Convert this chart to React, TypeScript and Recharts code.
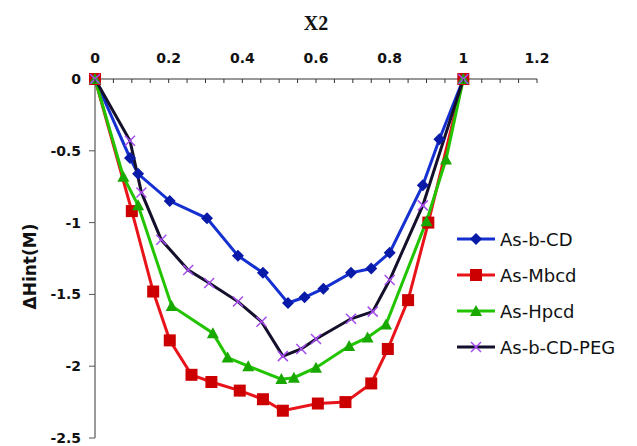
import { LineChart, Line, XAxis, YAxis, Label } from 'recharts'

// As-b-CD
const X_BCD = [0, 0.095, 0.117, 0.203, 0.304, 0.388, 0.456, 0.524, 0.569, 0.62, 0.695, 0.75, 0.8, 0.89, 0.935, 1]
const Y_BCD = [0, -0.55, -0.66, -0.85, -0.97, -1.23, -1.35, -1.56, -1.52, -1.46, -1.35, -1.32, -1.21, -0.74, -0.42, 0]

// As-Mbcd
const X_MBCD = [0, 0.1, 0.158, 0.203, 0.262, 0.316, 0.393, 0.456, 0.51, 0.605, 0.68, 0.75, 0.795, 0.85, 0.905, 1]
const Y_MBCD = [0, -0.92, -1.48, -1.82, -2.06, -2.11, -2.17, -2.23, -2.31, -2.26, -2.25, -2.12, -1.88, -1.54, -1.0, 0]

// As-Hpcd
const X_HPCD = [0, 0.077, 0.117, 0.208, 0.32, 0.36, 0.416, 0.506, 0.54, 0.6, 0.69, 0.74, 0.79, 0.9, 0.953, 1]
const Y_HPCD = [0, -0.68, -0.88, -1.58, -1.77, -1.94, -2.0, -2.09, -2.08, -2.01, -1.86, -1.8, -1.71, -0.99, -0.56, 0]

// As-b-CD-PEG
const X_PEG = [0, 0.095, 0.126, 0.18, 0.253, 0.31, 0.388, 0.452, 0.51, 0.56, 0.6, 0.695, 0.754, 0.8, 0.89, 1]
const Y_PEG = [0, -0.43, -0.79, -1.12, -1.33, -1.42, -1.55, -1.69, -1.93, -1.88, -1.81, -1.67, -1.62, -1.4, -0.88, 0]

const X_LABEL_TICKS = [0, 0.2, 0.4, 0.6, 0.8, 1, 1.2]
const X_MINOR_TICKS = [
  0, 0.05, 0.1, 0.15, 0.2, 0.25, 0.3, 0.35, 0.4, 0.45, 0.5, 0.55, 0.6, 0.65, 0.7, 0.75,
  0.8, 0.85, 0.9, 0.95, 1, 1.05, 1.1, 1.15, 1.2,
]
const Y_TICKS = [-2.5, -2, -1.5, -1, -0.5, 0]

const zip = (xs: number[], ys: number[]) => xs.map((x, i) => ({ x, y: ys[i] }))

const bcd = zip(X_BCD, Y_BCD)
const mbcd = zip(X_MBCD, Y_MBCD)
const hpcd = zip(X_HPCD, Y_HPCD)
const peg = zip(X_PEG, Y_PEG)

const FONT = '"DejaVu Sans", sans-serif'

const Diamond = ({ cx, cy }: any) =>
  cx == null ? null : (
    <path key={`d-${cx}-${cy}`} d={`M${cx},${cy - 6}L${cx + 6},${cy}L${cx},${cy + 6}L${cx - 6},${cy}Z`} fill="#0a1aa8" />
  )

const Square = ({ cx, cy }: any) =>
  cx == null ? null : <rect key={`s-${cx}-${cy}`} x={cx - 6} y={cy - 6} width={12} height={12} fill="#cc0000" />

const Triangle = ({ cx, cy }: any) =>
  cx == null ? null : (
    <path key={`t-${cx}-${cy}`} d={`M${cx},${cy - 6}L${cx + 6},${cy + 5}L${cx - 6},${cy + 5}Z`} fill="#18a800" />
  )

const Cross = ({ cx, cy }: any) =>
  cx == null ? null : (
    <path
      key={`c-${cx}-${cy}`}
      d={`M${cx - 5},${cy - 5}L${cx + 5},${cy + 5}M${cx + 5},${cy - 5}L${cx - 5},${cy + 5}`}
      stroke="#a64cf0"
      strokeWidth={1.5}
      fill="none"
    />
  )

const SERIES = [
  { name: 'As-b-CD', stroke: '#1530d0', Mark: Diamond },
  { name: 'As-Mbcd', stroke: '#e8141a', Mark: Square },
  { name: 'As-Hpcd', stroke: '#22c400', Mark: Triangle },
  { name: 'As-b-CD-PEG', stroke: '#14102c', Mark: Cross },
]

// top axis tick: small line pointing into the plot, label only on majors
const XTick = ({ x, y, payload }: any) => {
  const axisY = y + 16
  const major = X_LABEL_TICKS.some((t) => Math.abs(t - payload.value) < 1e-6)
  return (
    <g>
      <line x1={x} x2={x} y1={axisY} y2={axisY + 4} stroke="#333" strokeWidth={1} />
      {major && (
        <text x={x} y={y} textAnchor="middle" fontFamily={FONT} fontWeight="bold" fontSize={14} fill="#111">
          {String(payload.value)}
        </text>
      )}
    </g>
  )
}

const LegendBox = () => (
  <div style={{ position: 'absolute', left: 455, top: 221, fontFamily: FONT, fontSize: 18, color: '#111' }}>
    {SERIES.map(({ name, stroke, Mark }) => (
      <div key={name} style={{ display: 'flex', alignItems: 'center', height: 36 }}>
        <svg width={42} height={16}>
          <line x1={2} x2={40} y1={8} y2={8} stroke={stroke} strokeWidth={3} />
          <Mark cx={21} cy={8} />
        </svg>
        <span style={{ marginLeft: 3 }}>{name}</span>
      </div>
    ))}
  </div>
)

export default function App() {
  return (
    <div style={{ position: 'absolute', left: 0, top: 0, width: 637, height: 446, background: '#fff' }}>
      <LineChart width={637} height={446} data={bcd} margin={{ top: 8, right: 100, left: 10, bottom: 8 }}>
        <XAxis
          type="number"
          dataKey="x"
          orientation="top"
          domain={[0, 1.2]}
          ticks={X_MINOR_TICKS}
          tick={<XTick />}
          tickLine={false}
          tickSize={12}
          tickMargin={4}
          height={71}
          axisLine={{ stroke: '#333', strokeWidth: 1.2 }}
          interval={0}
        >
          <Label
            content={({ viewBox }: any) => (
              <text
                x={viewBox.x + viewBox.width / 2}
                y={viewBox.y + 22}
                textAnchor="middle"
                fontFamily='"Liberation Serif", serif'
                fontWeight="bold"
                fontSize={20}
                fill="#111"
              >
                X2
              </text>
            )}
          />
        </XAxis>
        <YAxis
          type="number"
          domain={[-2.5, 0]}
          ticks={Y_TICKS}
          width={85}
          interval={0}
          tickSize={6}
          tickMargin={8}
          tick={{ fontFamily: FONT, fontWeight: 'bold', fontSize: 14, fill: '#111' }}
          tickLine={{ stroke: '#555' }}
          axisLine={{ stroke: '#555', strokeWidth: 1.2 }}
        >
          <Label
            content={({ viewBox }: any) => {
              const lx = viewBox.x + 20
              const ly = viewBox.y + viewBox.height / 2 + 8
              return (
                <text
                  x={lx}
                  y={ly}
                  transform={`rotate(-90 ${lx} ${ly})`}
                  textAnchor="middle"
                  dominantBaseline="central"
                  fontFamily={FONT}
                  fontWeight="bold"
                  fontSize={17}
                  fill="#111"
                >
                  ΔHint(M)
                </text>
              )
            }}
          />
        </YAxis>
        <Line data={bcd} dataKey="y" name="As-b-CD" type="linear" stroke="#1530d0" strokeWidth={3} dot={Diamond} isAnimationActive={false} />
        <Line data={mbcd} dataKey="y" name="As-Mbcd" type="linear" stroke="#e8141a" strokeWidth={3} dot={Square} isAnimationActive={false} />
        <Line data={hpcd} dataKey="y" name="As-Hpcd" type="linear" stroke="#22c400" strokeWidth={3} dot={Triangle} isAnimationActive={false} />
        <Line data={peg} dataKey="y" name="As-b-CD-PEG" type="linear" stroke="#14102c" strokeWidth={3} dot={Cross} isAnimationActive={false} />
      </LineChart>
      <LegendBox />
    </div>
  )
}
